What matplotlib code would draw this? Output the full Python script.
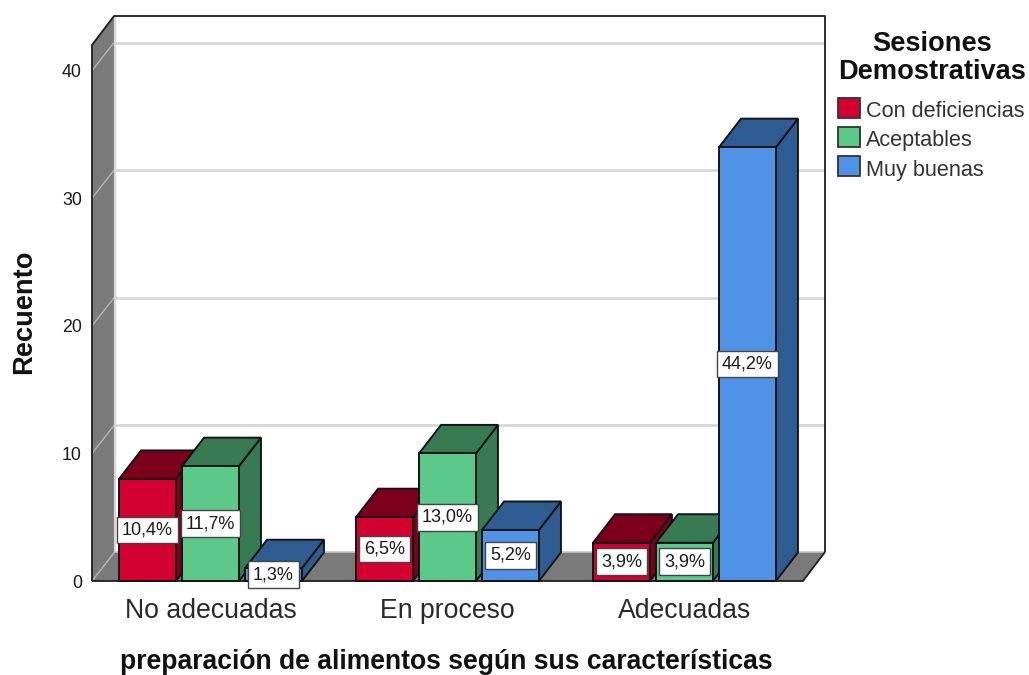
import numpy as np
import matplotlib
matplotlib.use("Agg")
import matplotlib.pyplot as plt
from matplotlib.patches import Polygon

plt.rcParams['font.family'] = ['Liberation Sans', 'DejaVu Sans']

categories = ["No adecuadas", "En proceso", "Adecuadas"]
series = ["Con deficiencias", "Aceptables", "Muy buenas"]
con_deficiencias = [8, 5, 3]
aceptables = [9, 10, 3]
muy_buenas = [1, 4, 34]
pct_con_deficiencias = ["10,4%", "6,5%", "3,9%"]
pct_aceptables = ["11,7%", "13,0%", "3,9%"]
pct_muy_buenas = ["1,3%", "5,2%", "44,2%"]
y_ticks = [0, 10, 20, 30, 40]

front = ["#D40030", "#5CC98A", "#5092E6"]
dark = ["#7C001C", "#387A52", "#2F5C92"]
wall = "#7A7A7A"

W, H = 1029, 675
px_per_unit = 12.76
fig = plt.figure(figsize=(W / 100, H / 100), dpi=100)
# the axes is the front plane of the 3D box
ax = fig.add_axes([92 / W, 1 - 581 / H, 711 / W, 536 / H])
ax.set_xlim(-0.5, 2.5)
ax.set_ylim(0, 536 / px_per_unit)
for s in ax.spines.values():
    s.set_visible(False)
ax.patch.set_visible(False)

# depth of the box and of the bars, in data units
dx = 22 / 237
dy = 29 / px_per_unit
grid_dy = 28 / px_per_unit
bar_dy = 28.5 / px_per_unit
ymax = ax.get_ylim()[1]
x0, x1 = ax.get_xlim()

def poly(pts, fc, ec="none", lw=0, z=1):
    ax.add_patch(Polygon(pts, closed=True, fc=fc, ec=ec, lw=lw, zorder=z,
                         clip_on=False, joinstyle="miter"))

def seg(xs, ys, color, lw, z):
    ax.plot(xs, ys, color=color, lw=lw, zorder=z, clip_on=False, solid_capstyle="butt")

# back wall, side wall, floor
poly([(x0 + dx, dy), (x1 + dx, dy), (x1 + dx, ymax + dy), (x0 + dx, ymax + dy)], "white", "none", 0, 1)
poly([(x0, 0), (x0 + dx, dy), (x0 + dx, ymax + dy), (x0, ymax)], wall, "none", 0, 2)
poly([(x0, 0), (x1, 0), (x1 + dx, dy), (x0 + dx, dy)], wall, "none", 0, 2)

# gridlines along the back wall and across the side wall
for t in y_ticks:
    if t > 0:
        seg([x0 + dx, x1 + dx], [t + grid_dy, t + grid_dy], "#D6D6D6", 1.9, 1.5)
    seg([x0, x0 + dx], [t, t + grid_dy], "#B4B4B4", 1.0, 2.5)
seg([x0 + dx + 0.004] * 2, [dy, ymax + dy], "#D6D6D6", 1.6, 2.5)
seg([x0 + dx, x1 + dx], [dy, dy], "#C4C4C4", 1.2, 2.5)

# box outline
seg([x0, x0, x0 + dx, x1 + dx, x1 + dx], [0, ymax, ymax + dy, ymax + dy, dy], "#1E1E1E", 1.3, 3)
seg([x0, x1, x1 + dx], [0, 0, dy], "#1E1E1E", 1.3, 3)

bar_w = 0.24
step = 0.2658
values = [con_deficiencias, aceptables, muy_buenas]
labels = [pct_con_deficiencias, pct_aceptables, pct_muy_buenas]
edge = "#141414"
z = 4
for c in range(len(categories)):
    for s in range(len(series)):
        v = values[s][c]
        x = c + (s - 1) * step
        l, r = x - bar_w / 2, x + bar_w / 2
        poly([(r, 0), (r + dx, bar_dy), (r + dx, v + bar_dy), (r, v)], dark[s], edge, 1.4, z)
        poly([(l, v), (r, v), (r + dx, v + bar_dy), (l + dx, v + bar_dy)], dark[s], edge, 1.4, z)
        ax.bar(x, v, width=bar_w, color=front[s], edgecolor=edge, linewidth=1.4, zorder=z + 0.5, clip_on=False)
        z += 1

# percentage boxes go above every bar
for c in range(len(categories)):
    for s in range(len(series)):
        x = c + (s - 1) * step
        ax.text(x, values[s][c] / 2, labels[s][c], ha="center", va="center", fontsize=13,
                color="#1A1A1A", zorder=40, clip_on=False,
                bbox=dict(boxstyle="square,pad=0.27", fc="white", ec="#444444", lw=1.0))

ax.set_xticks(range(len(categories)))
ax.set_xticklabels(categories, fontsize=19.2, color="#2A2A2A")
ax.set_yticks(y_ticks)
ax.set_yticklabels([str(t) for t in y_ticks], fontsize=12.8, color="#1A1A1A")
ax.tick_params(axis="x", length=0, pad=12)
ax.tick_params(axis="y", length=0, pad=7.3)
fig.text(446.5 / W, 1 - 662 / H, "preparación de alimentos según sus características", fontsize=19.1, fontweight="bold",
         ha="center", va="center", color="#111111")
fig.text(24.5 / W, 1 - 312 / H, "Recuento", rotation=90, fontsize=19.6, fontweight="bold", ha="center", va="center", color="#111111")

# legend title and swatches
fig.text(932 / W, 1 - 44 / H, "Sesiones", fontsize=19.6, fontweight="bold", ha="center", va="center", color="#111111")
fig.text(932 / W, 1 - 72 / H, "Demostrativas", fontsize=19.6, fontweight="bold", ha="center", va="center", color="#111111")
handles = [plt.Rectangle((0, 0), 1, 1, fc=front[s], ec="#333333", lw=1.3) for s in range(3)]
leg = fig.legend(handles, series, loc="upper left", bbox_to_anchor=(838 / W, 1 - 98 / H), frameon=False,
                 fontsize=15.6, handlelength=1.02, handleheight=1.02, handletextpad=0.28, labelspacing=0.32,
                 borderpad=0, borderaxespad=0, labelcolor="#333333")
for t in leg.get_texts():
    t.set_position((0, -2))

fig.savefig("out.png", dpi=100)
